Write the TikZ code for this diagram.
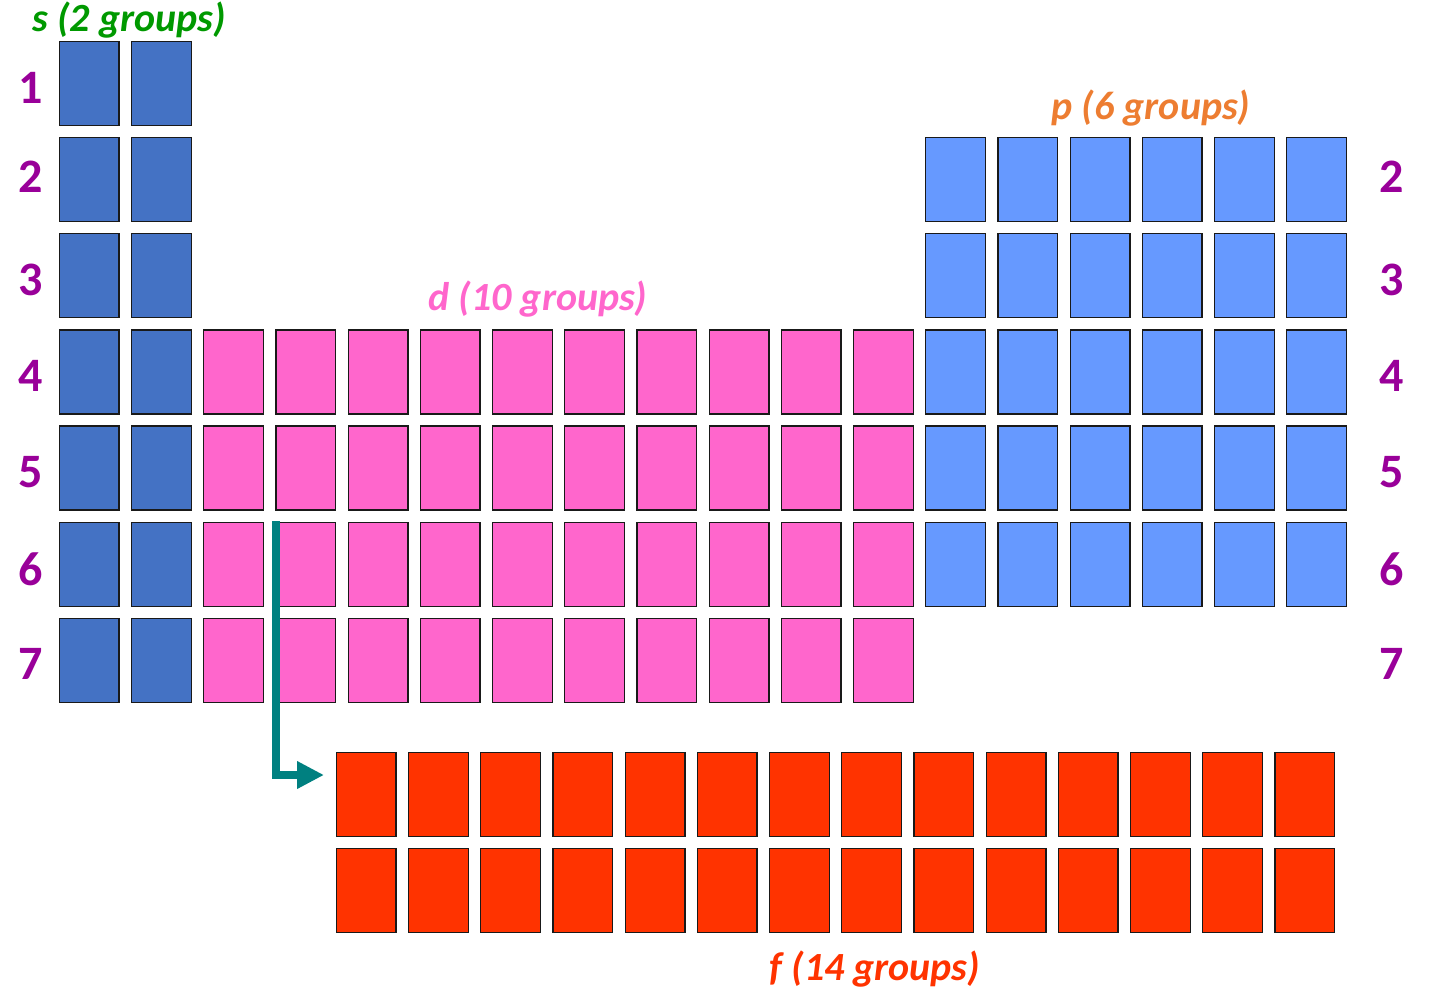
\documentclass[tikz,border=0pt]{standalone}
\usepackage{fontspec}
\setmainfont{Carlito}
\usetikzlibrary{arrows.meta}
\definecolor{sblue}{HTML}{4472C4}
\definecolor{pblue}{HTML}{6699FF}
\definecolor{dpink}{HTML}{FF66CC}
\definecolor{fred}{HTML}{FF3300}
\definecolor{numpurple}{HTML}{990099}
\definecolor{sgreen}{HTML}{009900}
\definecolor{porange}{HTML}{ED7D31}
\definecolor{arrteal}{HTML}{008080}
\tikzset{
  cell/.style={draw=black!90, line width=1.3pt, rectangle, inner sep=0pt,
    minimum width=59.7pt, minimum height=84pt, anchor=north west},
  scell/.style={cell, fill=sblue},
  pcell/.style={cell, fill=pblue},
  dcell/.style={cell, fill=dpink},
  fcell/.style={cell, fill=fred},
  rownum/.style={font=\bfseries\fontsize{48}{50}\selectfont, text=numpurple, inner sep=0pt},
  blocklabel/.style={font=\bfseries\itshape\fontsize{40}{44}\selectfont, inner sep=0pt, anchor=base},
  farrow/.style={draw=arrteal, line width=8pt, line join=miter,
    -{Triangle[width=26pt,length=27pt]}}
}
\begin{document}
\begin{tikzpicture}[x=1pt,y=-1pt]
\useasboundingbox (0,0) rectangle (1440,1001);
% s block
\foreach \r in {1,...,7}{
  \foreach \c in {0,1}{
    \node[scell] (s-\r-\c) at ({58.7+72.2*\c},{40.7+96.17*(\r-1)}) {};
  }
}
% d block
\foreach \r in {4,...,7}{
  \foreach \c in {2,...,11}{
    \node[dcell] (d-\r-\c) at ({58.7+72.2*\c},{40.7+96.17*(\r-1)}) {};
  }
}
% p block
\foreach \r in {2,...,6}{
  \foreach \c in {12,...,17}{
    \node[pcell] (p-\r-\c) at ({58.7+72.2*\c},{40.7+96.17*(\r-1)}) {};
  }
}
% f block
\foreach \r in {1,2}{
  \foreach \c in {0,...,13}{
    \node[fcell] (f-\r-\c) at ({335.7+72.2*\c},{751.7+96*(\r-1)}) {};
  }
}
% row numbers
\node[rownum] (nl1) at (31,88) {1};
\node[rownum] (nl2) at (31,177) {2};
\node[rownum] (nl3) at (31,280) {3};
\node[rownum] (nl4) at (31,376) {4};
\node[rownum] (nl5) at (31,472) {5};
\node[rownum] (nl6) at (31,569) {6};
\node[rownum] (nl7) at (31,664) {7};
\node[rownum] (nr2) at (1392,177) {2};
\node[rownum] (nr3) at (1392,280) {3};
\node[rownum] (nr4) at (1392,376) {4};
\node[rownum] (nr5) at (1392,472) {5};
\node[rownum] (nr6) at (1392,569) {6};
\node[rownum] (nr7) at (1392,664) {7};
% labels
\node[blocklabel, text=sgreen] (slab) at (129,31) {s (2 groups)};
\node[blocklabel, text=porange] (plab) at (1151,119) {p (6 groups)};
\node[blocklabel, text=dpink] (dlab) at (538,310) {d (10 groups)};
\node[blocklabel, text=fred] (flab) at (875,980) {f (14 groups)};
% arrow
\coordinate (astart) at (276,521);
\coordinate (acorner) at (276,775);
\coordinate (aend) at (324,775);
\draw[farrow] (astart) -- (acorner) -- (aend);
\end{tikzpicture}
\end{document}
